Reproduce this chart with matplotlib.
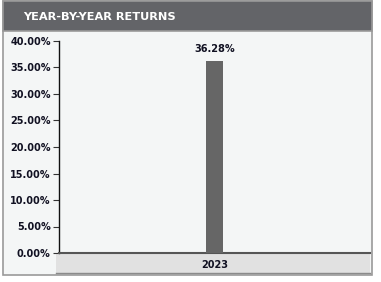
import matplotlib
matplotlib.use("Agg")
import matplotlib.pyplot as plt
from matplotlib.patches import Rectangle
from matplotlib.ticker import FuncFormatter

years = ["2023"]
returns = [36.28]
y_ticks = [0, 5, 10, 15, 20, 25, 30, 35, 40]

W, H = 381, 282
fig = plt.figure(figsize=(W / 100, H / 100), dpi=100)
fig.patch.set_facecolor("white")

def fx(px):
    return px / W

def fy(py):
    return 1 - py / H

# panel background + border
fig.add_artist(Rectangle((fx(3), fy(275)), fx(372) - fx(3), fy(1) - fy(275),
                         transform=fig.transFigure, facecolor="#f4f6f6",
                         edgecolor="#9a9a9a", linewidth=1.2, zorder=-2))
# header
fig.add_artist(Rectangle((fx(3), fy(31)), fx(372) - fx(3), fy(1) - fy(31),
                         transform=fig.transFigure, facecolor="#636468",
                         edgecolor="#9a9a9a", linewidth=1.2, zorder=-1))
fig.text(fx(23), fy(17), "YEAR-BY-YEAR RETURNS", color="white", fontsize=8.2,
         fontweight="bold", family="DejaVu Sans", va="center", ha="left")

# x band
fig.add_artist(Rectangle((fx(56), fy(273)), fx(370) - fx(56), fy(253) - fy(273),
                         transform=fig.transFigure, facecolor="#e1e1e1",
                         edgecolor="none", zorder=-1))
fig.add_artist(plt.Line2D([fx(56), fx(370)], [fy(273), fy(273)],
                          transform=fig.transFigure, color="#8a8a8a", lw=1, zorder=-1))

ax = fig.add_axes([fx(59), fy(253), fx(370) - fx(59), fy(41) - fy(253)])
ax.set_zorder(2)
ax.set_facecolor("none")
x = list(range(len(years)))
bars = ax.bar(x, returns, width=0.052, color="#666666", edgecolor="none", zorder=3)
ax.set_xlim(-0.5, len(years) - 0.5)
ax.set_ylim(0, 40)
ax.set_yticks(y_ticks)
ax.yaxis.set_major_formatter(FuncFormatter(lambda v, p: f"{v:.2f}%"))
for s in ["top", "right"]:
    ax.spines[s].set_visible(False)
ax.spines["left"].set_color("#111111")
ax.spines["left"].set_linewidth(1)
ax.spines["bottom"].set_color("#555555")
ax.spines["bottom"].set_linewidth(1.5)
ax.tick_params(axis="y", length=4, width=0.8, color="#333333", pad=2,
               labelsize=7, labelcolor="#111122")
for lab in ax.get_yticklabels():
    lab.set_fontweight("bold")
ax.set_xticks(x)
ax.set_xticklabels(years, fontsize=7, fontweight="bold", color="#111122")
ax.tick_params(axis="x", length=0, pad=5)

for b, v in zip(bars, returns):
    ax.text(b.get_x() + b.get_width() / 2, v + 1.2, f"{v:.2f}%", ha="center",
            va="bottom", fontsize=7, fontweight="bold", color="#111122")

fig.savefig("out.png", dpi=100)
